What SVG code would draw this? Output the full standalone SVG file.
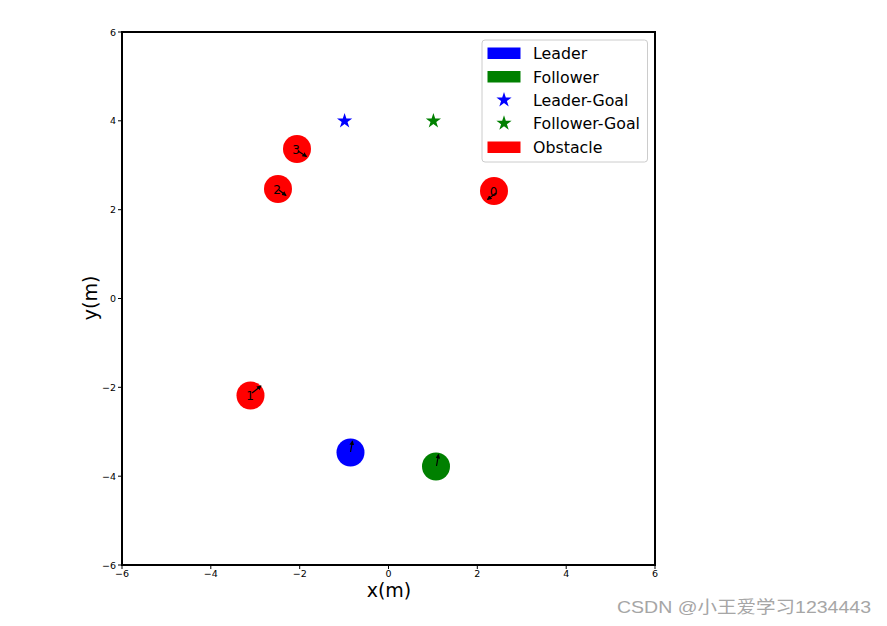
<svg xmlns="http://www.w3.org/2000/svg" width="887" height="626" viewBox="0 0 887 626">
<style>
text{font-family:"DejaVu Sans","Liberation Sans",sans-serif;fill:#000}
.tick{font-size:9.5px}
.lab{font-size:19px}
.leg{font-size:15.8px}
.num{font-size:12px}
.tk{stroke:#000;stroke-width:1}
.hd{stroke:#000;stroke-width:1.2;fill:none}
</style>
<defs>
<path id="star" d="M0,-8 L1.8,-2.48 L7.61,-2.47 L2.91,0.95 L4.7,6.47 L0,3.06 L-4.7,6.47 L-2.91,0.95 L-7.61,-2.47 L-1.8,-2.48 Z"/>
<marker id="ah" viewBox="0 0 6 6" refX="5" refY="3" markerWidth="4" markerHeight="4" orient="auto"><path d="M0,0 L6,3 L0,6 Z" fill="#000"/></marker>
</defs>
<rect width="887" height="626" fill="#fff"/>
<g id="axes">
<rect x="122" y="32" width="533" height="533" fill="#fff" stroke="#000" stroke-width="2"/>
<g class="tk">
<line x1="122" y1="565" x2="122" y2="569"/><line x1="210.8" y1="565" x2="210.8" y2="569"/><line x1="299.7" y1="565" x2="299.7" y2="569"/><line x1="388.5" y1="565" x2="388.5" y2="569"/><line x1="477.3" y1="565" x2="477.3" y2="569"/><line x1="566.2" y1="565" x2="566.2" y2="569"/><line x1="655" y1="565" x2="655" y2="569"/>
<line x1="118" y1="32" x2="122" y2="32"/><line x1="118" y1="120.8" x2="122" y2="120.8"/><line x1="118" y1="209.7" x2="122" y2="209.7"/><line x1="118" y1="298.5" x2="122" y2="298.5"/><line x1="118" y1="387.3" x2="122" y2="387.3"/><line x1="118" y1="476.2" x2="122" y2="476.2"/><line x1="118" y1="565" x2="122" y2="565"/>
</g>
<g class="tick" text-anchor="middle">
<text x="122" y="577">−6</text><text x="210.8" y="577">−4</text><text x="299.7" y="577">−2</text><text x="388.5" y="577">0</text><text x="477.3" y="577">2</text><text x="566.2" y="577">4</text><text x="655" y="577">6</text>
</g>
<g class="tick" text-anchor="end">
<text x="116" y="35.5">6</text><text x="116" y="124.3">4</text><text x="116" y="213.2">2</text><text x="116" y="302">0</text><text x="116" y="390.8">−2</text><text x="116" y="479.7">−4</text><text x="116" y="568.5">−6</text>
</g>
<text class="lab" x="389" y="597" text-anchor="middle">x(m)</text>
<text class="lab" transform="translate(97,298) rotate(-90)" text-anchor="middle">y(m)</text>
</g>
<g id="leader-goal"><use href="#star" x="344.6" y="121" fill="#0000ff"/></g>
<g id="follower-goal"><use href="#star" x="433.4" y="121" fill="#008000"/></g>
<g id="obstacle-0"><circle cx="494" cy="191" r="14" fill="#ff0000"/><text class="num" x="493.5" y="196" text-anchor="middle">0</text></g>
<g id="obstacle-1"><circle cx="250.5" cy="395.5" r="14" fill="#ff0000"/><text class="num" x="250" y="400" text-anchor="middle">1</text></g>
<g id="obstacle-2"><circle cx="278" cy="189" r="14" fill="#ff0000"/><text class="num" x="277" y="193.5" text-anchor="middle">2</text></g>
<g id="obstacle-3"><circle cx="297" cy="149" r="14" fill="#ff0000"/><text class="num" x="296" y="153.5" text-anchor="middle">3</text></g>
<g id="leader"><circle cx="350.5" cy="452.5" r="14" fill="#0000ff"/></g>
<g id="follower"><circle cx="436" cy="466.5" r="14" fill="#008000"/></g>
<g id="connectors" class="hd">
<line x1="496" y1="193" x2="487.5" y2="199.5" marker-end="url(#ah)"/>
<line x1="252" y1="393" x2="261" y2="386" marker-end="url(#ah)"/>
<line x1="279" y1="190" x2="286" y2="195.5" marker-end="url(#ah)"/>
<line x1="298" y1="151" x2="306.5" y2="156.5" marker-end="url(#ah)"/>
<line x1="350.5" y1="452" x2="352.5" y2="441" marker-end="url(#ah)"/>
<line x1="436.5" y1="466" x2="438.5" y2="454.5" marker-end="url(#ah)"/>
</g>
<g id="legend">
<rect x="482" y="40" width="165.5" height="122" rx="3" fill="#fff" fill-opacity="0.8" stroke="#cccccc" stroke-width="1"/>
<rect x="487.5" y="47.5" width="33" height="11.5" fill="#0000ff"/>
<rect x="487.5" y="71" width="33" height="11.5" fill="#008000"/>
<use href="#star" x="504" y="100" fill="#0000ff"/>
<use href="#star" x="504" y="123.3" fill="#008000"/>
<rect x="487.5" y="141.5" width="33" height="11.5" fill="#ff0000"/>
<g class="leg">
<text x="533" y="59">Leader</text>
<text x="533" y="82.5">Follower</text>
<text x="533" y="105.5">Leader-Goal</text>
<text x="533" y="129">Follower-Goal</text>
<text x="533" y="152.5">Obstacle</text>
</g>
</g>
<text x="617" y="613" textLength="254" lengthAdjust="spacingAndGlyphs" style="font-family:'Liberation Sans','Noto Sans CJK SC',sans-serif;font-size:17px;fill:#a6a6a6">CSDN @小王爱学习1234443</text>
</svg>
